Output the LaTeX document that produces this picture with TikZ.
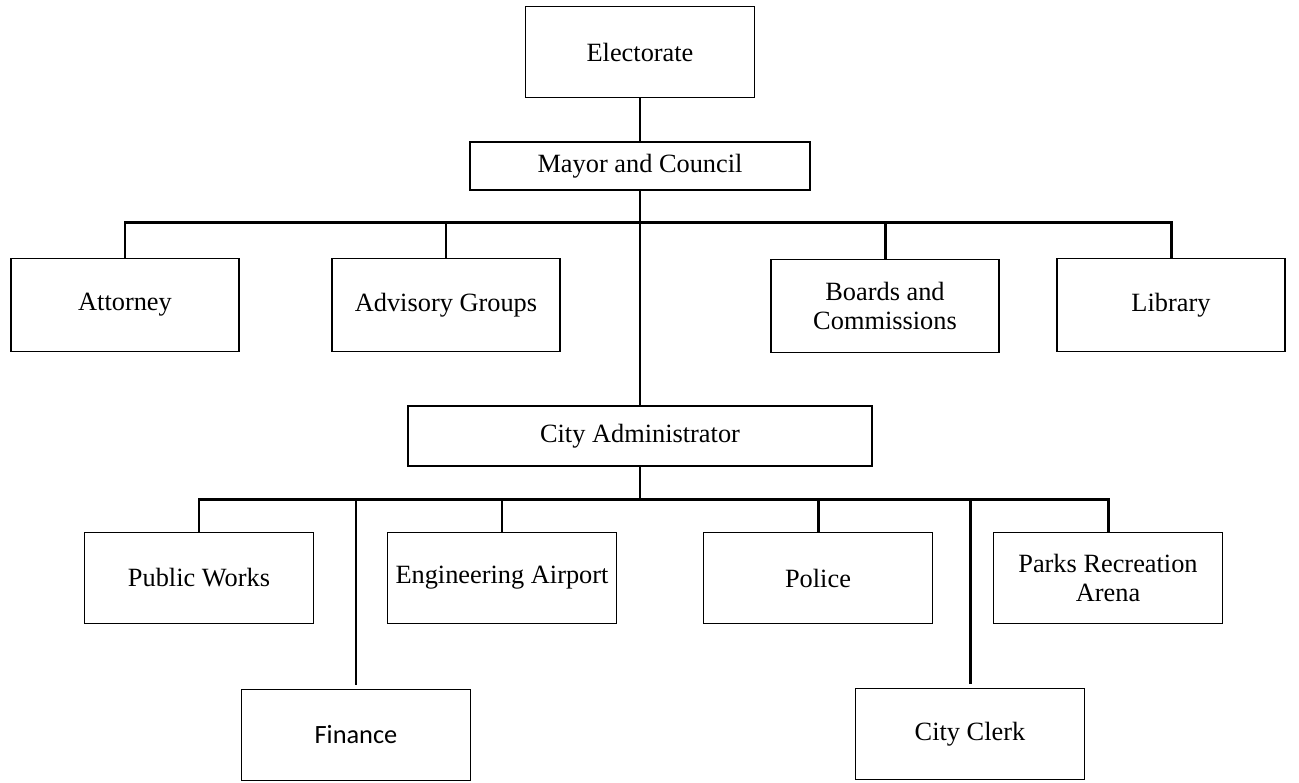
\documentclass[tikz,border=0pt]{standalone}
\usepackage{fontspec}
\setmainfont{Liberation Serif}
\newfontfamily\calfont{Carlito}
\usepackage{tikz}
\usetikzlibrary{positioning, calc}
\tikzset{
	office/.style={rectangle, draw=black, line width=1.1pt, minimum width=4.58cm, minimum height=1.82cm, text centered, align=center, inner sep=2pt, font=\fontsize{15}{17}\selectfont},
	topunit/.style={office, minimum width=4.56cm, minimum height=1.86cm},
	bar/.style={office, minimum height=0.96cm},
	orgline/.style={line width=1.7pt},
}

\begin{document}
\begin{tikzpicture}[x=0.02cm, y=-0.02cm]
	\useasboundingbox (0,0) rectangle (1299,782);
	% upper levels
	\node[office] (elect) at (640,52) {Electorate};
	\node[bar, minimum width=6.8cm] (mayor) at (640,166) {Mayor and Council};
	\node[topunit] (attorney) at (125,305) {Attorney};
	\node[topunit] (advisory) at (446,305) {Advisory Groups};
	\node[topunit] (boards) at (885,306) {Boards and\\Commissions};
	\node[topunit] (library) at (1171,305) {Library};
	\node[bar, minimum width=9.3cm, minimum height=1.2cm] (admin) at (640,436) {City Administrator};
	% departments
	\node[office] (pubworks) at (199,578) {Public Works};
	\node[office] (engair) at (502,578) {Engineering Airport};
	\node[office] (police) at (818,578) {Police};
	\node[office] (parks) at (1108,578) {Parks Recreation\\Arena};
	\node[office] (finance) at (356,735) {\calfont Finance};
	\node[office] (clerk) at (970,734) {City Clerk};

	\coordinate (busA) at (640,222);
	\coordinate (busB) at (640,499);

	\draw[orgline] (elect) -- (mayor);
	\draw[orgline] (mayor) -- (admin);
	\draw[orgline] (attorney.north) |- (busA) -| (library.north);
	\foreach \n in {advisory, boards}
		\draw[orgline] (\n.north) -- (\n.north |- busA);
	\draw[orgline] (admin) -- (busB);
	\draw[orgline] (pubworks.north) |- (busB) -| (parks.north);
	\foreach \n in {engair, police}
		\draw[orgline] (\n.north) -- (\n.north |- busB);
	\foreach \n in {finance, clerk}
		\draw[orgline, shorten <=0.08cm] (\n.north) -- (\n.north |- busB);
\end{tikzpicture}
\end{document}
